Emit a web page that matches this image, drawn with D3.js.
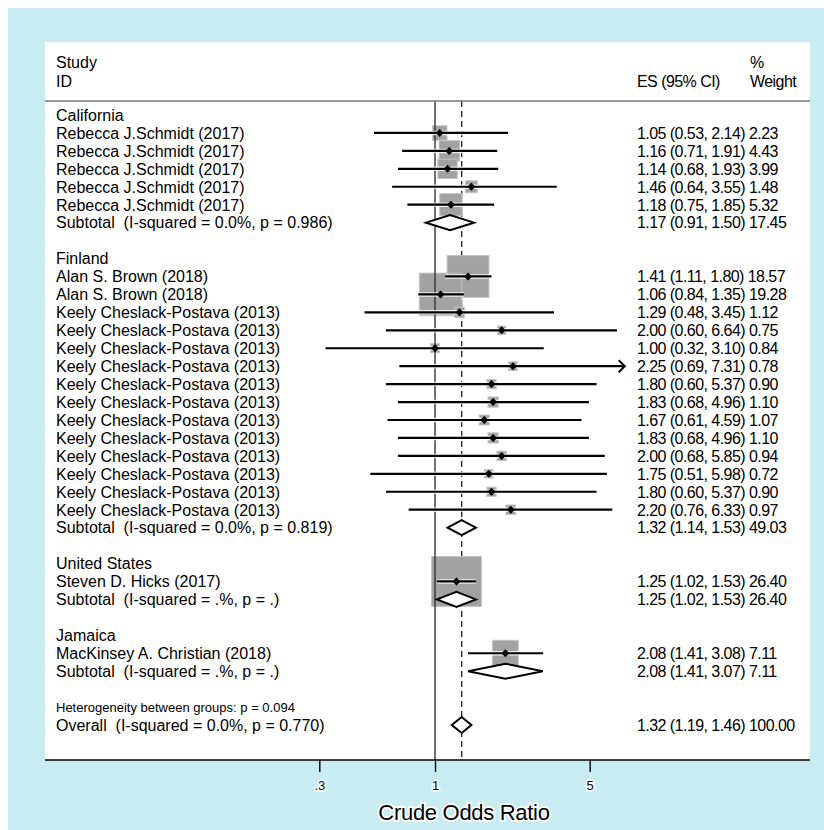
<!DOCTYPE html>
<html>
<head>
<meta charset="utf-8">
<script src="https://cdn.jsdelivr.net/npm/d3@7"></script>
<style>
  body { margin: 0; background: #fff; }
  text { font-family: "Liberation Sans", Arial, sans-serif; fill: #000; white-space: pre; }
</style>
</head>
<body>
<svg id="chart" width="824" height="830"></svg>
<script>
// ---- data ----
const groupNames = ["California", "Finland", "United States", "Jamaica"];

const studyGroup = [0, 0, 0, 0, 0,
                    1, 1, 1, 1, 1, 1, 1, 1, 1, 1, 1, 1, 1, 1,
                    2,
                    3];
const studyNames = [
  "Rebecca J.Schmidt (2017)", "Rebecca J.Schmidt (2017)", "Rebecca J.Schmidt (2017)",
  "Rebecca J.Schmidt (2017)", "Rebecca J.Schmidt (2017)",
  "Alan S. Brown (2018)", "Alan S. Brown (2018)",
  "Keely Cheslack-Postava (2013)", "Keely Cheslack-Postava (2013)", "Keely Cheslack-Postava (2013)",
  "Keely Cheslack-Postava (2013)", "Keely Cheslack-Postava (2013)", "Keely Cheslack-Postava (2013)",
  "Keely Cheslack-Postava (2013)", "Keely Cheslack-Postava (2013)", "Keely Cheslack-Postava (2013)",
  "Keely Cheslack-Postava (2013)", "Keely Cheslack-Postava (2013)", "Keely Cheslack-Postava (2013)",
  "Steven D. Hicks (2017)",
  "MacKinsey A. Christian (2018)"
];
const studyES     = [1.05, 1.16, 1.14, 1.46, 1.18,
                     1.41, 1.06, 1.29, 2.00, 1.00, 2.25, 1.80, 1.83, 1.67, 1.83, 2.00, 1.75, 1.80, 2.20,
                     1.25,
                     2.08];
const studyLow    = [0.53, 0.71, 0.68, 0.64, 0.75,
                     1.11, 0.84, 0.48, 0.60, 0.32, 0.69, 0.60, 0.68, 0.61, 0.68, 0.68, 0.51, 0.60, 0.76,
                     1.02,
                     1.41];
const studyHigh   = [2.14, 1.91, 1.93, 3.55, 1.85,
                     1.80, 1.35, 3.45, 6.64, 3.10, 7.31, 5.37, 4.96, 4.59, 4.96, 5.85, 5.98, 5.37, 6.33,
                     1.53,
                     3.08];
const studyWeight = [2.23, 4.43, 3.99, 1.48, 5.32,
                     18.57, 19.28, 1.12, 0.75, 0.84, 0.78, 0.90, 1.10, 1.07, 1.10, 0.94, 0.72, 0.90, 0.97,
                     26.40,
                     7.11];

const subES     = [1.17, 1.32, 1.25, 2.08];
const subLow    = [0.91, 1.14, 1.02, 1.41];
const subHigh   = [1.50, 1.53, 1.53, 3.07];
const subWeight = [17.45, 49.03, 26.40, 7.11];
const subHet    = ["I-squared = 0.0%, p = 0.986", "I-squared = 0.0%, p = 0.819",
                   "I-squared = .%, p = .", "I-squared = .%, p = ."];

const overallES = 1.32, overallLow = 1.19, overallHigh = 1.46, overallWeight = 100.00;
const overallHet = "I-squared = 0.0%, p = 0.770";
const hetBetweenP = "0.094";

const tickValues = [0.3, 1, 5];
const tickLabels = [".3", "1", "5"];
const xLabel = "Crude Odds Ratio";
const clipMax = 7.2;   // CIs beyond this end in an arrow

// ---- row layout ----
const rows = [];
let r = 0;
groupNames.forEach((g, gi) => {
  rows.push({ kind: "group", row: r++, gi });
  studyNames.forEach((n, i) => { if (studyGroup[i] === gi) rows.push({ kind: "study", row: r++, i }); });
  rows.push({ kind: "sub", row: r++, gi });
  r++; // blank spacer
});
const hetRow = r++;
const overallRow = r++;

// ---- scales ----
const x = d3.scaleLog().domain([0.3, 5]).range([319.3, 589.7]);
const y = d3.scaleLinear().domain([0, overallRow]).range([115, 725]);
const side = w => 9.7 * Math.sqrt(w);
const f2 = d3.format(".2f");
const esText = (e, l, h, w) => `${f2(e)} (${f2(l)}, ${f2(h)}) ${f2(w)}`;

const svg = d3.select("#chart");

// backgrounds
svg.append("rect").attr("x", 8).attr("y", 8).attr("width", 816).attr("height", 822).attr("fill", "#c9ecf3");
const panel = { left: 45, right: 810, top: 42, bottom: 760 };
svg.append("rect").attr("x", panel.left).attr("y", panel.top)
  .attr("width", panel.right - panel.left).attr("height", panel.bottom - panel.top).attr("fill", "#fff");

// overall-effect dashed reference line
svg.append("line").attr("x1", x(overallES)).attr("x2", x(overallES))
  .attr("y1", 101).attr("y2", panel.bottom)
  .attr("stroke", "#222").attr("stroke-width", 1.3).attr("stroke-dasharray", "6,4");

const studies = rows.filter(d => d.kind === "study");

// weight squares
svg.append("g").selectAll("rect").data(studies).join("rect")
  .attr("x", d => x(studyES[d.i]) - side(studyWeight[d.i]) / 2)
  .attr("y", d => y(d.row) - side(studyWeight[d.i]) / 2)
  .attr("width", d => side(studyWeight[d.i]))
  .attr("height", d => side(studyWeight[d.i]))
  .attr("fill", "#a2a2a2").attr("stroke", "#c4c4c4").attr("stroke-width", 1);

// null line at OR = 1
svg.append("line").attr("x1", x(1)).attr("x2", x(1)).attr("y1", 101).attr("y2", panel.bottom)
  .attr("stroke", "#333").attr("stroke-width", 1.4);

// confidence intervals
const ciEnd = i => x(Math.min(studyHigh[i], clipMax));
const ci = svg.append("g");
ci.selectAll("line.halo").data(studies).join("line").attr("class", "halo")
  .attr("x1", d => x(studyLow[d.i])).attr("x2", d => ciEnd(d.i))
  .attr("y1", d => y(d.row)).attr("y2", d => y(d.row))
  .attr("stroke", "#fff").attr("stroke-width", 4.5).attr("stroke-opacity", 0.8);
ci.selectAll("line.ci").data(studies).join("line").attr("class", "ci")
  .attr("x1", d => x(studyLow[d.i])).attr("x2", d => ciEnd(d.i))
  .attr("y1", d => y(d.row)).attr("y2", d => y(d.row))
  .attr("stroke", "#000").attr("stroke-width", 2.2);
ci.selectAll("path.arrow").data(studies.filter(d => studyHigh[d.i] > clipMax)).join("path")
  .attr("class", "arrow")
  .attr("d", d => { const tx = ciEnd(d.i), ty = y(d.row); return `M${tx - 6},${ty - 6}L${tx},${ty}L${tx - 6},${ty + 6}`; })
  .attr("fill", "none").attr("stroke", "#000").attr("stroke-width", 2);

// point estimates
svg.append("g").selectAll("path").data(studies).join("path")
  .attr("d", d => { const cx = x(studyES[d.i]), cy = y(d.row), s = 4;
    return `M${cx - s},${cy}L${cx},${cy - s}L${cx + s},${cy}L${cx},${cy + s}Z`; })
  .attr("fill", "#000");

// pooled diamonds
const diamond = (e, l, h, cy, hh) =>
  `M${x(l)},${cy}L${x(e)},${cy - hh}L${x(h)},${cy}L${x(e)},${cy + hh}Z`;
const subs = rows.filter(d => d.kind === "sub");
svg.append("g").selectAll("path").data(subs).join("path")
  .attr("d", d => diamond(subES[d.gi], subLow[d.gi], subHigh[d.gi], y(d.row), 7.5))
  .attr("fill", "#fff").attr("stroke", "#000").attr("stroke-width", 2).attr("stroke-linejoin", "miter");
svg.append("path").attr("d", diamond(overallES, overallLow, overallHigh, y(overallRow), 8))
  .attr("fill", "#fff").attr("stroke", "#000").attr("stroke-width", 2);

// header
const header = svg.append("g").style("font-size", "16px");
header.append("text").attr("x", 56).attr("y", 68).text("Study");
header.append("text").attr("x", 56).attr("y", 87).text("ID");
header.append("text").attr("x", 637).attr("y", 87).attr("letter-spacing", -0.55).text("ES (95% CI)");
header.append("text").attr("x", 750).attr("y", 68).text("%");
header.append("text").attr("x", 750).attr("y", 87).attr("letter-spacing", -0.55).text("Weight");
svg.append("line").attr("x1", panel.left).attr("x2", panel.right).attr("y1", 101).attr("y2", 101)
  .attr("stroke", "#777").attr("stroke-width", 1.5);

// left-hand labels
const leftLabel = d => d.kind === "group" ? groupNames[d.gi]
  : d.kind === "study" ? studyNames[d.i]
  : `Subtotal  (${subHet[d.gi]})`;
const labels = svg.append("g").style("font-size", "16px");
labels.selectAll("text.left").data(rows).join("text").attr("class", "left")
  .attr("x", 56).attr("y", d => y(d.row) + 5.8).text(leftLabel);
labels.append("text").attr("x", 56).attr("y", y(overallRow) + 5.8).text(`Overall  (${overallHet})`);
svg.append("text").attr("x", 56).attr("y", y(hetRow) + 4.5).style("font-size", "13px")
  .text(`Heterogeneity between groups: p = ${hetBetweenP}`);

// right-hand estimates
const rightLabel = d => d.kind === "study"
  ? esText(studyES[d.i], studyLow[d.i], studyHigh[d.i], studyWeight[d.i])
  : esText(subES[d.gi], subLow[d.gi], subHigh[d.gi], subWeight[d.gi]);
const rightRows = rows.filter(d => d.kind !== "group");
labels.selectAll("text.right").data(rightRows).join("text").attr("class", "right")
  .attr("x", 637).attr("y", d => y(d.row) + 5.8).attr("letter-spacing", -0.55).text(rightLabel);
labels.append("text").attr("x", 637).attr("y", y(overallRow) + 5.8).attr("letter-spacing", -0.55)
  .text(esText(overallES, overallLow, overallHigh, overallWeight));

// x axis
svg.append("line").attr("x1", panel.left).attr("x2", panel.right)
  .attr("y1", panel.bottom).attr("y2", panel.bottom).attr("stroke", "#000").attr("stroke-width", 1.5);
const axis = svg.append("g").attr("transform", `translate(0,${panel.bottom})`)
  .call(d3.axisBottom(x).tickValues(tickValues).tickFormat((d, i) => tickLabels[i]).tickSize(12).tickPadding(9));
axis.select(".domain").remove();
axis.selectAll(".tick line").attr("stroke", "#000").attr("stroke-width", 1.4);
axis.selectAll(".tick text")
  .style("font-family", "'Liberation Sans', Arial, sans-serif").style("font-size", "13px")
  .attr("fill", "#000").attr("stroke", "#fff").attr("stroke-width", 3).attr("paint-order", "stroke");

svg.append("text").attr("x", 464).attr("y", 820).attr("text-anchor", "middle")
  .style("font-size", "22px").attr("letter-spacing", -0.3)
  .attr("stroke", "#fff").attr("stroke-width", 3.5).attr("paint-order", "stroke")
  .text(xLabel);
</script>
</body>
</html>
